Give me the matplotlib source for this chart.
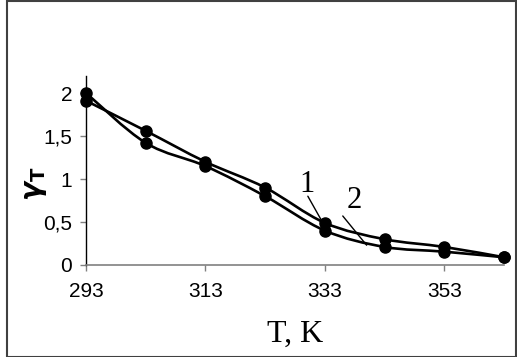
import numpy as np
import matplotlib.pyplot as plt
from matplotlib.path import Path
from matplotlib.patches import PathPatch, Rectangle

# Données
T = [293, 303, 313, 323, 333, 343, 353, 363]
gamma_1 = [1.91, 1.56, 1.20, 0.90, 0.49, 0.30, 0.21, 0.09]
gamma_2 = [2.00, 1.42, 1.15, 0.80, 0.40, 0.21, 0.155, 0.09]
xticks = [293, 313, 333, 353]
yticks = [0, 0.5, 1, 1.5, 2]
ytick_labels = ['0', '0,5', '1', '1,5', '2']


def smooth_path(x, y):
    # courbe lissée (Bezier, type Catmull-Rom) passant par les points
    p = np.column_stack([x, y]).astype(float)
    n = len(p)
    verts = [p[0]]
    codes = [Path.MOVETO]
    for i in range(n - 1):
        p0 = p[i - 1] if i > 0 else p[i]
        p3 = p[i + 2] if i + 2 < n else p[i + 1]
        c1 = p[i] + (p[i + 1] - p0) / 6
        c2 = p[i + 1] - (p3 - p[i]) / 6
        verts += [c1, c2, p[i + 1]]
        codes += [Path.CURVE4] * 3
    return Path(verts, codes)


W, H = 517, 357
fig = plt.figure(figsize=(W / 100, H / 100), dpi=100)
ax = fig.add_axes([86 / W, (H - 265) / H, (504 - 86) / W, 189.2 / H])

for g in (gamma_1, gamma_2):
    ax.add_patch(PathPatch(smooth_path(T, g), facecolor='none',
                           edgecolor='black', lw=1.9, clip_on=False))
    ax.plot(T, g, 'o', color='black', ms=8, clip_on=False, zorder=3)

ax.set_xlim(293, 363)
ax.set_ylim(0, 2.2)
ax.set_xticks(xticks)
ax.set_yticks(yticks, ytick_labels)
ax.tick_params(labelsize=15, labelfontfamily='Liberation Sans', color='#808080',
               direction='out', length=4, width=1)
ax.tick_params(axis='x', pad=8)
ax.tick_params(axis='y', pad=6)

ax.spines['top'].set_visible(False)
ax.spines['right'].set_visible(False)
ax.spines['left'].set_color('black')
ax.spines['left'].set_linewidth(1)
ax.spines['bottom'].set_color('#808080')
ax.spines['bottom'].set_linewidth(1.2)

# étiquettes des courbes et traits de rappel
ax.text(330.0, 0.94, '1', fontsize=22, family='Liberation Serif', ha='center', va='center')
ax.text(338.0, 0.75, '2', fontsize=22, family='Liberation Serif', ha='center', va='center')
ax.annotate('', xy=(332.5, 0.51), xytext=(330.15, 0.80),
            arrowprops=dict(arrowstyle='-', lw=1, color='black', shrinkA=0, shrinkB=0))
ax.annotate('', xy=(340.0, 0.23), xytext=(336.0, 0.57),
            arrowprops=dict(arrowstyle='-', lw=1, color='black', shrinkA=0, shrinkB=0))

fig.text(295 / W, 1 - 342 / H, 'T, K', fontsize=23, family='Liberation Serif',
         ha='center', va='baseline')
fig.text(35 / W, 1 - 184 / H, r'$\boldsymbol{\gamma}_\mathbf{T}$', fontsize=20,
         rotation=90, ha='center', va='center')

# cadre
fig.patches.append(Rectangle((7 / W, 0.5 / H), (W - 8.5) / W, (H - 1.5) / H,
                             transform=fig.transFigure, fill=False,
                             edgecolor='#404040', lw=1.5))

fig.savefig('out.png', dpi=100)
